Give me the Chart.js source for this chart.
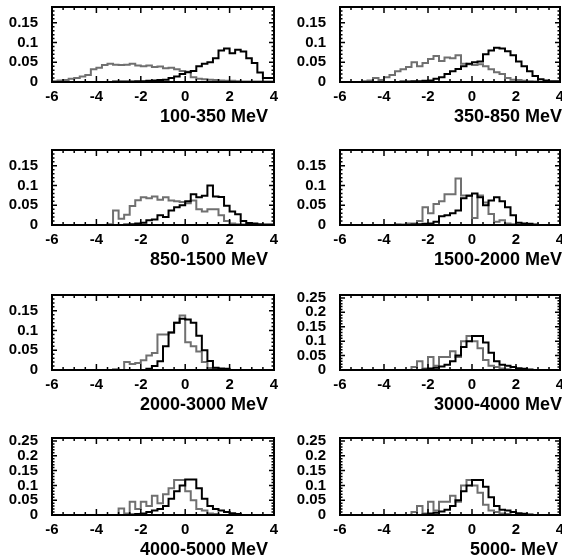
<!DOCTYPE html>
<html lang="en">
<head>
<meta charset="UTF-8">
<title>Distributions per energy bin</title>
<script src="https://cdn.jsdelivr.net/npm/chart.js"></script>
<style>
  html, body { margin: 0; padding: 0; background: #fff; }
  body { width: 562px; height: 558px; position: relative; overflow: hidden; }
  canvas { position: absolute; }
</style>
</head>
<body>
<script>
// low edge of each 0.25 wide bin, the last bin ends at 4
const binLow = [-6, -5.75, -5.5, -5.25, -5, -4.75, -4.5, -4.25, -4, -3.75,
                -3.5, -3.25, -3, -2.75, -2.5, -2.25, -2, -1.75, -1.5, -1.25,
                -1, -0.75, -0.5, -0.25, 0, 0.25, 0.5, 0.75, 1, 1.25,
                1.5, 1.75, 2, 2.25, 2.5, 2.75, 3, 3.25, 3.5, 3.75];
const binEnd = 4;

const energyLabels = ['100-350 MeV', '350-850 MeV', '850-1500 MeV', '1500-2000 MeV',
                      '2000-3000 MeV', '3000-4000 MeV', '4000-5000 MeV', '5000- MeV'];
const yTops = [0.19, 0.19, 0.19, 0.19, 0.19, 0.26, 0.26, 0.26];

// black histograms
const black1 = [0,0,0,0,0,0,0,0,0,0, 0,0,0.001,0.001,0.001,0.001,0.002,0.002,0.003,0.004,
  0.005,0.006,0.010,0.014,0.020,0.025,0.028,0.040,0.046,0.050, 0.060,0.080,0.085,0.073,0.082,0.077,0.060,0.048,0.024,0.010];
const black2 = [0,0,0,0,0,0,0,0,0,0, 0,0,0.001,0.001,0.002,0.002,0.003,0.004,0.008,0.012,
  0.020,0.027,0.033,0.040,0.046,0.050,0.052,0.070,0.080,0.087, 0.085,0.078,0.068,0.052,0.040,0.027,0.015,0.007,0.004,0.002];
const black3 = [0,0,0,0,0,0,0,0,0,0, 0,0,0,0,0.001,0.002,0.004,0.006,0.012,0.014,
  0.025,0.020,0.037,0.045,0.050,0.060,0.078,0.070,0.074,0.100, 0.072,0.071,0.049,0.034,0.027,0.010,0.005,0.004,0.002,0.001];
const black4 = [0,0,0,0,0,0,0,0,0,0, 0,0,0,0,0.001,0.002,0.003,0.004,0.008,0.022,
  0.025,0.030,0.037,0.068,0.074,0.080,0.070,0.050,0.062,0.070, 0.060,0.045,0.025,0.006,0.004,0.003,0.001,0,0,0];
const black5 = [0,0,0,0,0,0,0,0,0,0, 0,0,0,0,0,0,0,0,0.003,0.010,
  0.022,0.060,0.095,0.120,0.130,0.128,0.120,0.087,0.050,0.023, 0.006,0.004,0.003,0,0,0,0,0,0,0];
const black6 = [0,0,0,0,0,0,0,0,0,0, 0,0,0,0,0,0,0.002,0.005,0.008,0.012,
  0.018,0.030,0.050,0.080,0.100,0.118,0.118,0.095,0.060,0.030, 0.018,0.015,0.010,0.006,0.004,0.002,0,0,0,0];
const black7 = [0,0,0,0,0,0,0,0,0,0, 0,0,0,0,0,0.002,0.003,0.005,0.010,0.015,
  0.020,0.030,0.055,0.080,0.100,0.120,0.120,0.090,0.055,0.030, 0.020,0.015,0.010,0.006,0.003,0,0,0,0,0];
const black8 = [0,0,0,0,0,0,0,0,0,0, 0,0,0,0,0,0,0.002,0.005,0.008,0.012,
  0.018,0.030,0.050,0.080,0.100,0.118,0.118,0.095,0.060,0.030, 0.018,0.015,0.010,0.006,0.004,0.002,0,0,0,0];

// grey histograms
const grey1 = [0.002,0.002,0.004,0.005,0.008,0.010,0.014,0.018,0.032,0.036, 0.043,0.046,0.044,0.043,0.044,0.046,0.042,0.040,0.042,0.038,
  0.039,0.035,0.036,0.032,0.028,0.026,0.012,0.008,0.007,0.006, 0.005,0.004,0.003,0.003,0.002,0.001,0.001,0.001,0.001,0.001];
const grey2 = [0,0,0,0,0,0.002,0.004,0.010,0.005,0.012, 0.018,0.027,0.032,0.038,0.050,0.040,0.048,0.058,0.066,0.053,
  0.062,0.060,0.068,0.046,0.045,0.043,0.045,0.040,0.032,0.025, 0.020,0.010,0.006,0.005,0.003,0.002,0.001,0,0,0];
const grey3 = [0,0,0,0,0,0,0,0,0,0, 0,0.002,0.037,0.016,0.026,0.048,0.063,0.070,0.068,0.072,
  0.064,0.070,0.062,0.060,0.058,0.055,0.062,0.040,0.034,0.040, 0.040,0.025,0.010,0.004,0.002,0.001,0,0,0,0];
const grey4 = [0,0,0,0,0,0,0,0,0,0, 0,0.002,0.001,0.004,0.004,0.010,0.045,0.030,0.053,0.060,
  0.078,0.078,0.118,0.075,0.075,0.018,0.075,0.057,0.028,0.008, 0.012,0.004,0.002,0,0,0,0,0,0,0];
const grey5 = [0,0,0,0,0,0,0,0,0,0, 0,0,0.002,0,0.020,0.015,0.018,0.025,0.037,0.043,
  0.090,0.090,0.095,0.120,0.138,0.070,0.060,0.047,0.020,0.005, 0.002,0,0,0,0,0,0,0,0,0];
const grey6 = [0,0,0,0,0,0,0,0,0,0, 0,0,0,0,0.010,0.030,0.005,0.045,0.015,0.045,
  0.045,0.065,0.045,0.100,0.118,0.100,0.075,0.035,0.015,0.010, 0.005,0.003,0,0,0,0,0,0,0,0];
const grey7 = [0,0,0,0,0,0,0,0,0,0, 0,0,0,0.022,0.005,0.045,0.020,0.045,0.030,0.065,
  0.040,0.070,0.090,0.118,0.118,0.080,0.050,0.020,0.015,0.005, 0.003,0,0,0,0,0,0,0,0,0];
const grey8 = [0,0,0,0,0,0,0,0,0,0, 0,0,0,0,0.010,0.030,0.005,0.045,0.015,0.045,
  0.045,0.065,0.045,0.100,0.118,0.100,0.075,0.035,0.015,0.010, 0.005,0.003,0,0,0,0,0,0,0,0];

const blacks = [black1, black2, black3, black4, black5, black6, black7, black8];
const greys = [grey1, grey2, grey3, grey4, grey5, grey6, grey7, grey8];

// page layout (pixels)
const colLeft = [0, 281];
const plotLeft = [52, 340];
const plotRight = [274, 560];
const titleRight = [268, 562, 268, 562, 268, 562, 268, 558];
const rowTop = [7, 150, 295, 438];
const rowBottom = [82, 225, 370, 515];
const PAD_TOP = 10, X_AXIS_H = 46, COL_W = 281;

const FONT = '"Liberation Sans", Arial, Helvetica, sans-serif';

function histPoints(vals) {
  const pts = binLow.map((x, i) => ({ x: x, y: vals[i] }));
  pts.push({ x: binEnd, y: vals[vals.length - 1] });
  return pts;
}

// ROOT style frame: ticks inside on all four sides, plus the x axis title
const rootFrame = {
  id: 'rootFrame',
  afterDatasetsDraw(chart, args, opts) {
    const { ctx, chartArea: a, scales: { x, y } } = chart;
    ctx.save();
    ctx.strokeStyle = '#000';
    ctx.lineWidth = 1.5;
    ctx.beginPath();
    for (let i = 0; i <= 20; i++) {
      const px = x.getPixelForValue(-6 + i * 0.5);
      const len = i % 4 === 0 ? 6 : 3;
      ctx.moveTo(px, a.bottom); ctx.lineTo(px, a.bottom - len);
      ctx.moveTo(px, a.top); ctx.lineTo(px, a.top + len);
    }
    const nMinor = Math.floor(y.max / 0.01 + 1e-6);
    for (let i = 0; i <= nMinor; i++) {
      const py = y.getPixelForValue(i * 0.01);
      const len = i % 5 === 0 ? 5 : 2.5;
      ctx.moveTo(a.left, py); ctx.lineTo(a.left + len, py);
      ctx.moveTo(a.right, py); ctx.lineTo(a.right - len, py);
    }
    ctx.stroke();
    ctx.lineWidth = 2;
    ctx.strokeRect(a.left, a.top, a.right - a.left, a.bottom - a.top);
    ctx.fillStyle = '#000';
    ctx.font = 'bold 18px ' + FONT;
    ctx.textAlign = 'right';
    ctx.textBaseline = 'middle';
    ctx.fillText(opts.text, opts.right, a.bottom + 35);
    ctx.restore();
  }
};

function makePanel(i) {
  const col = i % 2, row = Math.floor(i / 2);
  const h = rowBottom[row] - rowTop[row];
  const cv = document.createElement('canvas');
  cv.width = COL_W;
  cv.height = h + PAD_TOP + X_AXIS_H;
  cv.style.left = colLeft[col] + 'px';
  cv.style.top = (rowTop[row] - PAD_TOP) + 'px';
  cv.style.width = cv.width + 'px';
  cv.style.height = cv.height + 'px';
  document.body.appendChild(cv);

  const yAxisW = plotLeft[col] - colLeft[col];
  const padRight = colLeft[col] + COL_W - plotRight[col];

  new Chart(cv, {
    type: 'line',
    data: {
      datasets: [
        { data: histPoints(blacks[i]), borderColor: '#000', borderWidth: 2, stepped: 'after',
          pointRadius: 0, fill: false },
        { data: histPoints(greys[i]), borderColor: '#707070', borderWidth: 2, stepped: 'after',
          pointRadius: 0, fill: false }
      ]
    },
    options: {
      responsive: false,
      animation: false,
      events: [],
      layout: { padding: { top: PAD_TOP, right: padRight, bottom: 0, left: 0 } },
      plugins: {
        legend: { display: false },
        tooltip: { enabled: false },
        rootFrame: { text: energyLabels[i], right: titleRight[i] - colLeft[col] }
      },
      scales: {
        x: {
          type: 'linear', min: -6, max: 4,
          grid: { display: false, drawTicks: false }, border: { display: false },
          ticks: { stepSize: 2, includeBounds: false, autoSkip: false, maxRotation: 0,
                   color: '#000', padding: 6, font: { family: FONT, size: 15, weight: 'bold' } },
          afterFit(s) { s.height = X_AXIS_H; s.paddingLeft = 0; s.paddingRight = 0; }
        },
        y: {
          type: 'linear', min: 0, max: yTops[i],
          grid: { display: false, drawTicks: false }, border: { display: false },
          ticks: { stepSize: 0.05, includeBounds: false, autoSkip: false,
                   color: '#000', padding: 14, font: { family: FONT, size: 15, weight: 'bold' },
                   callback: v => String(Math.round(v * 100) / 100) },
          afterFit(s) { s.width = yAxisW; s.paddingTop = 0; s.paddingBottom = 0; }
        }
      }
    },
    plugins: [rootFrame]
  });
}

for (let i = 0; i < 8; i++) makePanel(i);
</script>
</body>
</html>
